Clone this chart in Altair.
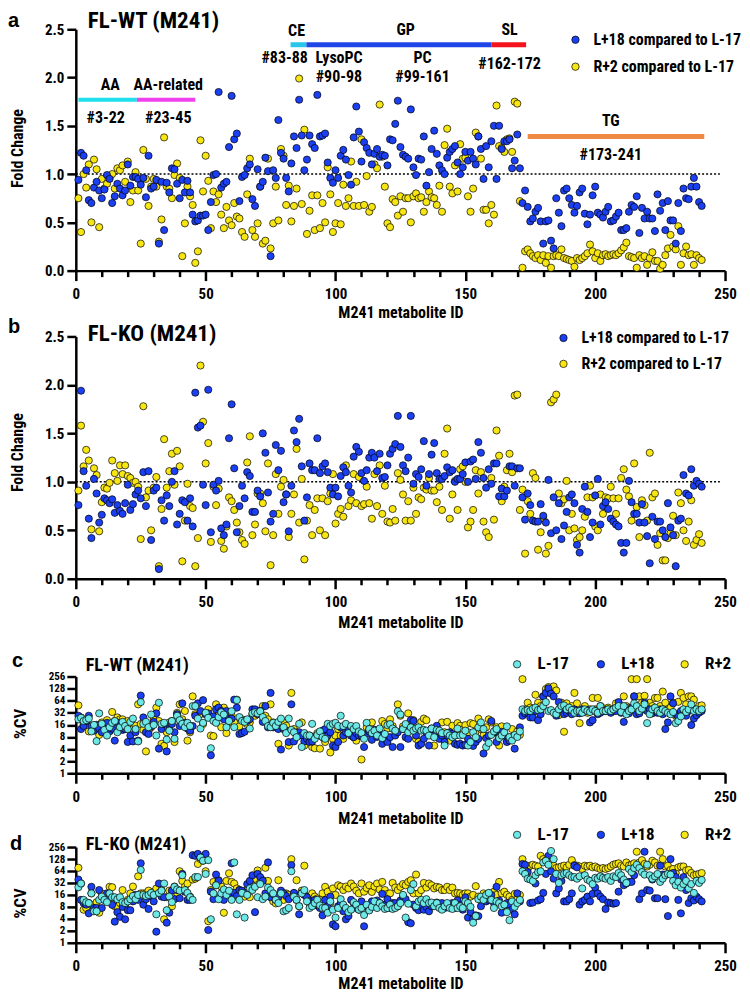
import altair as alt
import pandas as pd

FONT = "Liberation Sans Narrow, Roboto Condensed, DejaVu Sans Condensed, Roboto, Liberation Sans, sans-serif"
LETTER_FONT = "Liberation Sans, Arial, sans-serif"
BLUE = "#1b3ff2"
YELLOW = "#f8e612"
CYAN = "#6ce8e6"

LEG_B = "L+18 compared to L-17"
LEG_Y = "R+2 compared to L-17"

# ---------------- panel a (FL-WT fold change) ----------------
a_blue = [0.94,1.22,1.19,1.04,0.73,0.70,0.86,0.92,0.83,0.75, 0.84,0.99,0.95,0.70,0.77,0.90,0.85,0.78,0.83,1.10,
          0.88,0.97,0.97,0.95,0.89,0.96,0.76,1.19,0.85,0.87, 0.94,0.28,0.92,0.42,0.91,0.81,1.06,1.05,0.90,0.75,
          0.94,0.81,0.93,0.81,0.58,0.51,0.52,0.57,0.57,0.58, 0.42,0.71,0.99,1.00,1.85,0.86,0.90,0.92,1.28,1.81,
          1.36,1.42,0.72,0.97,0.99,1.06,1.10,0.74,0.67,1.05, 0.87,0.92,1.17,1.03,0.15,1.04,0.96,1.56,1.22,1.16,
          0.96,0.82,1.11,1.39,1.27,1.77,1.40,1.04,1.15,1.40, 1.31,1.27,1.82,1.39,1.40,1.42,1.12,0.96,0.91,1.04,
          0.96,1.19,1.25,1.15,0.99,0.89,1.38,1.70,1.44,1.13, 1.33,
          1.27,1.22,1.10,1.21,1.26,1.18,1.20,1.19,1.09,1.36, 1.35,1.52,1.76,1.28,1.20,1.18,1.16,1.67,1.07,0.99,
          1.16,1.15,1.39,0.88,1.02,1.26,1.45,1.21,1.09,1.04, 1.00,1.17,1.23,1.26,1.29,1.12,1.00,1.07,1.23,1.14,
          1.23,1.16,1.10,1.39,1.26,0.95,1.29,1.07,1.34,1.50, 0.95,1.50,1.26,1.34,1.34,1.36,1.06,1.14,1.41,1.06,
          0.70,0.83,0.66,0.51,0.54,0.61,0.65,0.51,0.28,0.51, 0.52,0.31,0.23,0.75,0.60,0.46,0.83,0.85,0.75,0.68,
          0.60,0.67,0.81,0.85,0.59,0.48,0.58,0.78,0.87,0.60, 0.58,0.55,0.61,0.66,0.51,0.52,0.56,0.60,0.42,0.42,
          0.44,0.61,0.68,0.66,0.77,0.39,0.65,0.54,0.61,0.54, 0.54,0.41,0.79,0.62,0.70,0.42,0.72,0.52,0.52,0.28,
          0.70,0.41,0.85,0.75,0.74,0.87,0.96,0.87,0.71,0.67]
a_yellow = [0.75,0.40,1.00,0.86,1.10,0.50,1.15,1.05,0.45,0.95, 0.85,0.90,0.96,1.00,0.85,1.06,1.04,1.09,0.92,1.13,
            0.71,0.83,1.02,0.83,0.28,1.25,0.95,0.67,0.87,0.95, 0.87,0.30,0.53,1.38,0.87,0.85,0.75,0.99,1.11,0.96,
            0.15,0.49,0.87,0.77,0.68,0.08,0.20,1.35,0.82,1.19, 0.93,0.44,0.82,0.71,0.79,0.58,0.44,0.66,0.52,0.47,
            0.70,0.56,0.54,0.40,0.35,0.79,1.16,0.42,0.35,0.49, 0.87,0.28,0.31,1.16,0.23,0.49,0.87,0.52,1.26,1.19,
            0.68,0.88,0.51,0.67,0.85,1.99,0.69,1.46,0.38,0.62, 0.78,0.42,0.78,0.44,0.70,0.50,1.07,0.79,0.40,0.49,
            0.70,0.48,0.89,0.67,0.75,1.13,0.67,0.92,0.67,1.36, 0.68,
            0.98,0.61,0.66,1.10,1.06,1.72,1.18,0.87,0.49,0.45, 0.74,0.71,0.57,0.77,0.61,0.75,0.75,0.50,0.77,0.80,
            0.75,0.76,0.61,0.71,0.82,0.76,0.75,0.68,0.88,0.61, 1.30,1.47,0.87,0.80,1.09,0.82,1.31,1.16,1.17,0.77,
            0.61,0.85,1.43,1.39,1.16,0.63,0.63,0.49,0.68,0.58, 1.71,1.29,1.27,1.23,1.36,1.37,1.23,1.75,1.73,0.72,
            0.03,0.20,0.22,0.18,0.15,0.13,0.16,0.11,0.16,0.08, 0.15,0.03,0.15,0.16,0.15,0.22,0.13,0.12,0.11,0.10,
            0.04,0.13,0.11,0.13,0.15,0.18,0.27,0.20,0.13,0.18, 0.10,0.16,0.17,0.15,0.16,0.17,0.16,0.18,0.21,0.24,
            0.29,0.15,0.14,0.13,0.03,0.16,0.13,0.15,0.06,0.13, 0.19,0.10,0.10,0.02,0.06,0.16,0.23,0.37,0.25,0.22,
            0.46,0.06,0.18,0.25,0.16,0.17,0.06,0.16,0.13,0.11]

# ---------------- panel b (FL-KO fold change) ----------------
b_blue = [0.76,1.94,1.11,0.96,0.62,0.42,1.03,0.88,0.58,0.66, 0.83,0.81,0.78,0.82,0.68,0.76,0.70,0.67,0.78,0.97,
          0.71,0.77,0.87,0.91,0.83,1.10,0.75,1.11,0.40,0.91, 0.94,0.10,0.81,0.60,0.86,0.75,1.00,1.11,0.56,0.67,
          0.81,0.79,0.60,0.83,0.54,1.92,1.56,1.58,0.97,0.76, 1.95,0.48,0.97,0.91,1.01,0.52,0.45,0.56,1.45,1.80,
          1.14,0.48,0.75,0.96,0.83,1.10,1.06,0.69,0.69,0.91, 0.85,1.50,1.30,0.89,0.59,0.67,1.38,1.12,1.32,0.79,
          0.87,0.49,0.96,1.53,1.41,1.65,1.16,0.60,0.84,1.19, 1.12,1.12,1.45,1.09,1.16,1.19,1.10,0.94,0.87,0.94,
          0.85,1.06,1.15,1.10,0.96,0.89,1.26,1.36,1.31,1.09, 1.01,
          1.12,1.25,1.30,1.25,1.11,1.29,1.04,1.05,1.17,
          1.29,1.34,1.39,1.68,1.36,1.17,1.11,1.25,1.68,0.98, 1.08,1.05,1.13,1.42,0.96,1.08,1.28,1.40,1.09,1.03,
          1.03,1.06,1.15,1.10,1.12,1.00,1.03,1.03,1.08,1.20, 1.00,1.21,1.23,1.03,1.41,1.30,1.04,0.94,1.13,0.98,
          1.19,1.19,0.85,0.93,0.85,0.91,1.16,1.16,0.96,1.14, 1.14,0.84,0.61,0.88,0.76,0.60,0.59,0.59,0.77,0.65,
          0.58,1.02,0.47,0.84,0.50,0.78,0.41,0.55,0.69,0.84, 0.87,0.78,0.35,0.27,0.72,0.95,0.69,0.43,0.58,0.86,
          1.03,0.56,0.75,0.79,0.72,0.62,0.59,0.56,0.54,0.37, 0.27,0.37,1.01,0.79,0.67,0.67,0.58,0.77,0.58,0.44,
          0.16,0.64,0.41,0.59,0.59,0.50,0.43,0.78,0.53,0.45, 0.13,0.60,0.62,1.07,0.88,0.86,1.13,0.96,1.01,0.98,
          0.95]
b_yellow = [0.91,1.58,1.16,1.33,1.22,0.51,1.14,1.07,0.49,0.79, 0.94,0.93,0.99,1.22,1.09,1.01,1.17,1.08,1.17,1.06,
            1.04,0.99,1.00,0.95,0.41,1.78,0.84,0.91,0.50,0.94, 1.05,0.13,0.72,1.44,0.94,1.11,1.29,0.97,1.32,1.16,
            0.18,0.60,0.98,0.75,0.73,0.13,0.42,2.20,1.62,1.19, 1.40,0.38,0.95,0.76,0.93,0.39,0.31,0.54,0.84,0.80,
            0.71,0.58,0.48,0.40,0.36,1.20,1.47,0.45,0.56,0.88, 0.88,0.78,0.49,1.19,0.14,0.45,1.08,0.67,0.95,1.02,
            0.87,0.43,0.67,0.87,1.34,0.58,1.03,0.20,0.60,0.76, 0.45,0.71,0.83,0.50,0.83,0.45,0.80,0.88,1.08,0.57,
            0.67,0.72,0.64,1.17,0.75,0.81,1.08,0.78,1.05,0.75, 0.77,
            0.95,
            0.78,0.62,1.08,0.75,1.17,0.67,0.96,0.59,0.58,0.72, 0.60,1.09,1.02,0.87,0.60,0.80,0.60,0.94,0.67,0.84,
            0.82,0.94,0.92,1.04,0.91,0.91,0.79,0.95,0.71,1.29, 1.55,0.62,0.87,1.01,0.71,1.13,1.16,1.00,0.53,0.59,
            0.71,1.12,0.88,1.10,0.59,0.48,0.43,1.04,0.61,1.53, 1.27,0.80,0.95,1.12,1.29,1.10,1.89,1.90,0.71,0.92,
            0.26,0.80,0.67,1.09,1.04,0.30,0.48,0.62,0.26,0.34, 1.82,1.85,1.90,0.88,0.78,0.82,1.01,0.50,0.67,0.52,
            0.40,0.43,0.50,0.64,0.84,0.96,0.84,0.54,0.50,0.87, 0.67,0.84,0.83,0.95,0.83,0.67,0.83,1.04,1.13,0.92,
            0.85,0.60,1.19,0.74,0.43,0.81,0.76,0.60,1.30,0.84, 0.88,0.35,0.47,0.19,0.19,0.42,0.47,0.65,0.45,0.89,
            0.78,0.50,0.39,0.59,0.81,0.35,0.40,0.46,0.37]

# ---------------- panel c (FL-WT %CV) ----------------
c_l17 = [22,24,20,21,23,11,16,6.3,31,17, 12,8.7,14,18,20,10.5,14,19,15,12.6,
         19,23,12.6,6.2,59,17,19,14,29,16, 8.7,57,17,18,6.9,11.5,20,7.2,27,21,
         17,14,18,15,47,47,23,13,18,32, 24,4.2,20,18,25,33,29,14,20,35,
         14,66,25,20,19,22,13,31,33,31, 35,25,20,15,14,18,15,19,23,14,
         10,23,12,10.5,7.9,17,4.5,10,8.7,8.7, 17,7.2,9,11,7.9,7.2,17,15,17,18,
         15,27,15,17,10,15,12.6,15,11,10, 7.2,
         18,12.6,10,11.5,8.7,13,7.5,9.5,15.8,16.8, 13,11.5,35,29,12.6,16.8,10.5,13.9,11.5,13,
         13.9,11.5,12,11.5,8.7,13,7.9,12,11.5,10, 4.9,10,8.7,7.9,8.7,13,8.7,9,11.5,4.9,
         6,10.5,7.9,13.9,18.4,12.6,4.5,5.7,9,11, 12.6,7.5,8.7,10.5,14.7,7.9,6.5,9,8,11,
         39,35.5,37.5,35.5,40.5,43,37.5,39,47,59, 35.5,37.5,32,29.5,39,47,49,39,43,37.5,
         32,35.5,35.5,32,39,35.5,33.5,39,35.5,32, 47,35.5,35.5,39,35.5,39,43,47,33.5,47,
         29.5,35.5,39,55,47,35.5,40.5,52,17.7,29.5, 39,43,35.5,32,39,35.5,32,29.5,33.5,17.7,
         20,26,39,33.5,39,52,35.5,39,35.5,39]
c_l18 = [27,12.6,15,20,27,15,11.5,16,13,10.5, 14.7,18,11,13,6.5,18,14.7,12,12.6,6,
         8.7,6.2,10.5,6.5,86,24.5,10.5,9.5,14.7,19, 31,4.1,12.6,16.8,3.5,12.2,16.8,10.5,29.5,15,
         55,18,13,11.5,15,27,55,35.5,66,29.5, 31,2.8,26,39,43,35.5,22,35.5,22.8,22.8,
         68,43,9.5,10,10.8,20,22,39,39,29.5, 35.5,19,47,13.9,100,13.9,16.8,12.6,3.9,12.6,
         11.5,6,52,6.2,8.7,10.5,8.7,6.2,7.2,6, 6.2,7.9,8.7,10.5,11.5,12.6,8.7,10.5,4.9,4.5,
         6,13.9,8.7,10.5,11.5,8.7,7.9,10,8.7,8.7, 4.5,
         9.5,11,6.8,12,8,8.7,5.4,7.2,6,7.9, 4.5,8.7,10.5,4.5,12.6,7.9,7.2,21,20,8.7,
         4.9,5.4,7.2,10.5,4.9,13,8.7,15.2,7.2,8.7, 6,8.7,10.5,9.5,5.4,5.1,5.4,4.9,5.1,7.2,
         5.4,4.8,6,7.2,13.9,3.1,7.5,8.7,20,10.5, 6,7.9,10.8,8.7,6,6.5,7.9,4.1,8.7,13.9,
         27,31,32,24.5,24.5,35.5,21,29.5,82,100, 130,96,82,27,59,39,29.5,32,35.5,29.5,
         39,32,31,39,35.5,37.5,18.4,21,35.5,29.5, 32,37.5,35.5,39,32,35.5,35.5,59,32,19,
         35.5,31,43,82,29.5,31,39,57,35.5,39, 31,35.5,32,39,29.5,12.6,18.4,82,55,29.5,
         26,35.5,31,27,35.5,15.8,23,28,32,35.5]
c_r2 = [49,24.5,16.8,20,11,13.9,12.6,13.9,9,18.4, 14,21,16,33.5,20,24.5,22,22,18.4,20,
        16.8,12.6,15.2,52,16.8,12,3.5,11,13.9,22, 43,20,5.4,4.8,10.5,18.4,20,6,32,52,
        22,35.5,6.5,10.5,82,29.5,27,29.5,16.8,31, 39,8.7,8.4,52,29.5,14,43,10,18.4,27,
        18.4,68,14.7,22,20,16.8,18.4,29.5,27,32, 35.5,47,27,22,52,18.4,15.2,5.4,20,18.4,
        15.2,4.9,100,12.6,10.5,8.7,18.4,4.9,6.5,8.7, 4.5,4.2,10,4.1,7.9,6,12.6,3.3,7.2,8.7,
        12.6,8.7,7.2,13.9,10.5,8.7,7.9,6.5,8.7,2.2, 8.7,
        14,12.6,18.4,11.5,9.5,8.7,20,16.8,13,22, 15,11,52,27,14.7,12.6,31,17,21,7.2,
        6,19,23,21,11,8.7,4.9,13,10.5,18.4, 10.5,19,6.5,15.2,8.7,17.7,15.2,12.2,15.8,10.5,
        17.7,16.8,11,23,12.6,8.7,13.9,22,18.4,10.5, 14,4.9,14.7,9,6.2,7.9,12.6,8.7,11,9,
        220,39,57,43,38,90,57,47,82,125, 140,100,145,115,28,57,10.8,55,35.5,47,
        100,55,17.7,35.5,47,32,39,75,39,75, 47,42,35.5,43,35.5,40.5,55,39,47,82,
        47,43,220,82,220,82,57,85,220,57, 47,75,75,47,108,57,39,43,57,27,
        60,100,75,52,82,82,68,39,47,49]

# ---------------- panel d (FL-KO %CV) ----------------
d_l17 = [25,31,12,10.5,10,17.5,6.2,6.2,12,14.5, 12,10.5,17.5,14,14,12.5,14,10.5,10,11,
         12.5,15,12.5,16,68,16,15,16,18,16, 5.2,18,20.5,31,6.6,14.5,10.5,25.6,22,20.5,
         50,21.2,18,14,12,45,45,140,116,54, 120,3.9,17.5,28,12.5,17.5,22,16,20.5,12,
         105,5.2,12,18,4.3,16,23.3,21.2,25.6,14, 30,12.5,14.5,24.5,21.2,17.5,12,10,17.5,6.2,
         6.6,7.5,63,14.5,12,8.3,17.5,21.2,11,7.5, 8.3,10,12,8.7,7.5,7.5,5.7,11,6.8,4.3,
         7.5,12.5,9.1,7.5,5.9,6.8,10.5,9.1,6.8,7.5, 5,
         9,6.5,8,11,7.5,10,8.3,7.1,7.5,9.1, 7.1,7.5,8.3,10,16,4.3,9.6,21.2,30,8.3,
         11,12,10,12.5,10,10.3,8.3,10,7.5,6.8, 8.3,10,7.5,7.1,10,7.5,8.3,7.5,11,10,
         8,3.2,4.7,12.5,14.5,12,16,18,12,7.5, 11,10,8.3,9.1,5.9,3.7,11,8,10,12,
         63,54,41,39,36,50,60,63,105,116, 92,204,127,54,32,50,54,57,50,45,
         45,41,47,23.3,50,39,36,30,43,41, 47,43,41,45,36,47,45,57,50,39,
         32,72,60,76,92,76,60,52,92,50, 41,47,54,34,41,50,54,52,36,28,
         34,24.5,30,36,23.3,30,18,36,32,38]
d_l18 = [39,12,10,9.1,5.5,25.6,7.5,7.5,21.2,7.5, 12.5,17.5,14,9,3.4,5.9,4.5,8,3.9,6.6,
         6.6,11,16,12,100,9.1,12.5,7.1,15,11, 1.9,31,14.5,14,3.2,5.7,20.5,12.5,21.2,13.2,
         54,19.3,12,12,160,154,172,140,140,172, 2.1,19.3,12.5,52,36,16,12,18,17.5,100,
         18,15,21.2,20.5,18,30,36,50,5.9,54, 45,36,17.5,105,14,17,12,14,20.5,17.5,
         15,12.5,90,18,12,5.2,18,16,14,11, 10,12,8.6,7.5,4.9,12,8.3,14.5,2.9,2.6,
         8.3,10,6.2,3.9,4.7,12,10,7.5,6.8,11, 2.6,
         8,6.8,11,9.1,11.6,10,17,9.1,12.5,7.5, 10,10,8.3,11.6,14.5,12.5,3.3,3.1,9.1,7.5,
         6.6,8.3,6.8,8,6.2,8.3,8.6,10.3,8.3,10, 7.5,8.6,8.3,10,7.5,11.6,9.1,6.8,14,4.3,
         5.9,4,4.9,4.7,8.3,12.5,11,12,16,10, 25.6,11.6,5.7,8.3,10,9.1,6.8,5.2,17.5,11,
         96,92,60,10,10.3,31,11.6,12.5,18,54, 154,63,41,17.5,23.3,36,11,11,12.5,17.5,
         87,79,9.1,11,12,14.5,11,17,24.5,17.5, 14.5,12.5,7.1,10.3,10,9.6,10,19.3,39,28,
         31,34,34,50,83,12.5,17.5,195,21.2,20.5, 39,13.2,13.2,87,52,12.5,4.7,127,57,45,
         12,5.5,45,21.2,10,13.2,11.6,14.5,12.5,11]
d_r2 = [77,31,6.8,7.5,10,17.5,9.1,10.5,5.7,17.5, 12,14.5,25.6,25,8.3,8,10,21.2,9.1,12,
        17.5,26,14.5,47,17.5,17.5,17.5,20.5,16,19.3, 23.3,17.5,21.2,3.9,14,20.5,8.3,26,17.5,63,
        36,25.6,31,14.5,39,41,96,127,116,63, 3.5,21.2,34,28,37.5,26,5.7,36,56,34,
        31,23.3,21.2,17.5,14.5,21.2,14,28,41,66, 33,37.5,77,36,17.5,11,9.8,37.5,17.5,12,
        17.5,16,127,17.5,37.5,8.3,20.5,87,14.5,9.8, 17.5,14.5,13,12,17.5,25.6,19.3,10,23.3,16,
        28,26,21.2,26,23.3,31,26,20.5,17.5,31, 19.3,
        24,28,19,26,31,22,34,21.2,17,17.5, 32,24.5,21.2,25.6,30,28,34,37.5,17.5,52,
        17.5,21.2,32,24.5,31,28,23.3,25.6,24.5,21.2, 21.2,25.6,21.2,24.5,17.5,18,17.5,16,17.5,17.5,
        14.5,16,26.6,14.5,12,17.5,16,17.5,17.5,19.3, 16,34,17.5,19.3,16,14.5,12,17,12.5,16,
        127,83,72,87,92,87,83,154,127,116, 96,105,87,76,79,83,87,79,92,120,
        90,87,83,72,87,83,87,79,83,76, 72,76,72,76,83,92,96,100,87,83,
        105,88,92,100,195,105,120,96,83,92, 116,105,87,195,127,83,87,68,72,57,
        79,83,83,66,68,57,50,52,54,57]

# ---------------- panel a annotations ----------------
bar_start = [1.0, 23.5, 82.7, 88.8, 160.0, 174.0]
bar_end = [23.5, 46.0, 88.8, 160.0, 173.4, 242.0]
bar_level = [1.77, 1.77, 2.34, 2.34, 2.34, 1.39]
bar_color = ["#20e0ee", "#f040ee", "#27c6ea", "#2046e8", "#f5141e", "#ef8a44"]
bar_width = [4, 4, 5, 5, 5, 5]

ann_text = ["AA", "AA-related", "#3-22", "#23-45", "CE", "#83-88", "LysoPC", "#90-98",
            "GP", "PC", "#99-161", "SL", "#162-172", "TG", "#173-241"]
ann_x = [13.3, 35.6, 11.5, 35.6, 85.0, 80.4, 101.4, 101.3, 127.0, 133.5, 133.5, 167.0, 167.0, 206.0, 206.0]
ann_y = [1.92, 1.92, 1.58, 1.58, 2.48, 2.20, 2.205, 2.005, 2.49, 2.205, 2.005, 2.49, 2.14, 1.55, 1.20]

W = 651


def series_df(values, name, order):
    return pd.DataFrame({"id": list(range(1, len(values) + 1)), "value": values,
                         "series": name, "ord": order})


def x_axis(title_y):
    return alt.Axis(
        title="M241 metabolite ID", values=list(range(0, 251, 10)),
        tickSize={"condition": {"test": "datum.value % 50 === 0", "value": 10}, "value": 6},
        labelExpr="datum.value % 50 === 0 ? datum.label : ''",
        labelFontSize=15, titleFontSize=16, labelPadding=6,
        titleX=W / 2, titleY=title_y, titleAlign="center", titleBaseline="middle",
        labelFlush=False, labelOverlap=False)


def text_layer(txt, x, y, size, font=FONT):
    return alt.Chart(pd.DataFrame({"t": [txt]})).mark_text(
        align="left", baseline="alphabetic", font=font, fontSize=size,
        fontWeight="bold", color="black").encode(
        x=alt.value(x), y=alt.value(y), text="t:N")


def fc_panel(blue, yellow, height, letter, letter_y, title, title_y, leg_x, leg_y,
             row_pad, ytitle_y, xtitle_y, with_ann=False):
    df = pd.concat([series_df(yellow, LEG_Y, 0), series_df(blue, LEG_B, 1)])
    xs = alt.Scale(domain=[0, 250], nice=False, zero=False)
    ys = alt.Scale(domain=[0, 2.5], nice=False)
    xax = x_axis(xtitle_y)
    yax = alt.Axis(values=[0, 0.5, 1, 1.5, 2, 2.5], format=".1f", title="Fold Change",
                   labelFontSize=15, titleFontSize=16, tickSize=9, labelPadding=3,
                   titleX=-58, titleY=ytitle_y, titleAngle=270, titleAlign="center",
                   titleBaseline="middle", labelFlush=False)

    def X(f="id"):
        return alt.X(f + ":Q", scale=xs, axis=xax)

    def Y(f="value"):
        return alt.Y(f + ":Q", scale=ys, axis=yax)

    pts = alt.Chart(df).mark_circle(size=52, stroke="black", strokeWidth=0.7, opacity=1).encode(
        x=X(), y=Y(),
        color=alt.Color("series:N", scale=alt.Scale(domain=[LEG_B, LEG_Y], range=[BLUE, YELLOW]),
                        legend=alt.Legend(title=None, orient="none", legendX=leg_x, legendY=leg_y,
                                          direction="vertical", symbolType="circle", symbolSize=55,
                                          symbolStrokeColor="black", symbolStrokeWidth=0.7,
                                          labelFont=FONT, labelFontSize=16, labelFontWeight="bold",
                                          labelColor="black", labelOffset=10, rowPadding=row_pad,
                                          labelLimit=400, padding=0)),
        order=alt.Order("ord:Q"))
    dotted = alt.Chart(pd.DataFrame({"id": [0], "id2": [248], "value": [1.0]})).mark_rule(
        color="black", strokeDash=[2, 2], strokeWidth=1.5).encode(
        x=X(), x2="id2:Q", y=Y())
    layers = [dotted]
    if with_ann:
        bars_df = pd.DataFrame({"id": bar_start, "id2": bar_end, "value": bar_level, "c": bar_color})
        for i in range(len(bar_start)):
            layers.append(alt.Chart(bars_df.iloc[[i]]).mark_rule(
                strokeWidth=bar_width[i], strokeCap="butt").encode(
                x=X(), x2="id2:Q", y=Y(), stroke=alt.Stroke("c:N", scale=None)))
        ann_df = pd.DataFrame({"id": ann_x, "value": ann_y, "label": ann_text})
        layers.append(alt.Chart(ann_df).mark_text(
            font=FONT, fontSize=16, fontWeight="bold", color="black",
            align="center", baseline="middle").encode(x=X(), y=Y(), text="label:N"))
    layers += [pts, text_layer(letter, -68, letter_y, 20, LETTER_FONT), text_layer(title, 12, title_y, 23)]
    return alt.layer(*layers).properties(width=W, height=height)


def cv_panel(l17, l18, r2, height, yrange, letter, letter_x, letter_y, title, title_y,
             leg_x, leg_y, ytitle_y, xtitle_y):
    df = pd.concat([series_df(r2, "R+2", 0), series_df(l18, "L+18", 1), series_df(l17, "L-17", 2)])
    pts = alt.Chart(df).mark_circle(size=52, stroke="black", strokeWidth=0.7, opacity=1).encode(
        x=alt.X("id:Q", scale=alt.Scale(domain=[0, 250], nice=False, zero=False), axis=x_axis(xtitle_y)),
        y=alt.Y("value:Q", scale=alt.Scale(type="log", base=2, domain=[1, 256], range=yrange, nice=False),
                axis=alt.Axis(values=[1, 2, 4, 8, 16, 32, 64, 128, 256], format="d", title="%CV",
                              labelFontSize=11, titleFontSize=17, tickSize=9, labelPadding=2,
                              titleX=-55, titleY=ytitle_y, titleAngle=270, titleAlign="center",
                              titleBaseline="middle", labelFlush=False, labelOverlap=False)),
        color=alt.Color("series:N", scale=alt.Scale(domain=["L-17", "L+18", "R+2"], range=[CYAN, BLUE, YELLOW]),
                        legend=alt.Legend(title=None, orient="none", legendX=leg_x, legendY=leg_y,
                                          direction="horizontal", columns=3, gridAlign="all",
                                          columnPadding=21, symbolType="circle", symbolSize=55,
                                          symbolStrokeColor="black", symbolStrokeWidth=0.7,
                                          labelFont=FONT, labelFontSize=17, labelFontWeight="bold",
                                          labelColor="black", labelOffset=12, padding=0)),
        order=alt.Order("ord:Q"))
    return alt.layer(pts, text_layer(letter, letter_x, letter_y, 20, LETTER_FONT),
                     text_layer(title, 10, title_y, 18)).properties(width=W, height=height)


pa = fc_panel(a_blue, a_yellow, 242, "a", -2, "FL-WT (M241)", -1.5, 493, 2.5, 11, 119, 42.5, True)
pb = fc_panel(b_blue, b_yellow, 243, "b", -3.5, "FL-KO (M241)", 4.5, 481, -6.5, 10, 116, 44)
pc = cv_panel(c_l17, c_l18, c_r2, 129, [129, 32], "c", -64, 22.5, "FL-WT (M241)", 26.5, 434, 11, 79, 45)
pd_ = cv_panel(d_l17, d_l18, d_r2, 104, [104, 8], "d", -66, 10.5, "FL-KO (M241)", 10.5, 434, -13, 64, 40.5)

chart = alt.vconcat(pa, pb, pc, pd_, spacing=66, bounds="flush").resolve_scale(
    x="independent", y="independent", color="independent"
).properties(
    padding={"left": 0, "top": 0, "right": 0, "bottom": 0}
).configure_axis(
    labelFont=FONT, titleFont=FONT, labelFontWeight="bold", titleFontWeight="bold",
    labelColor="black", titleColor="black", domainColor="black", tickColor="black",
    grid=False, domainWidth=2.5, tickWidth=2.5
).configure_view(stroke=None)

chart.save("out.html", embed_options={"renderer": "svg", "actions": False})
